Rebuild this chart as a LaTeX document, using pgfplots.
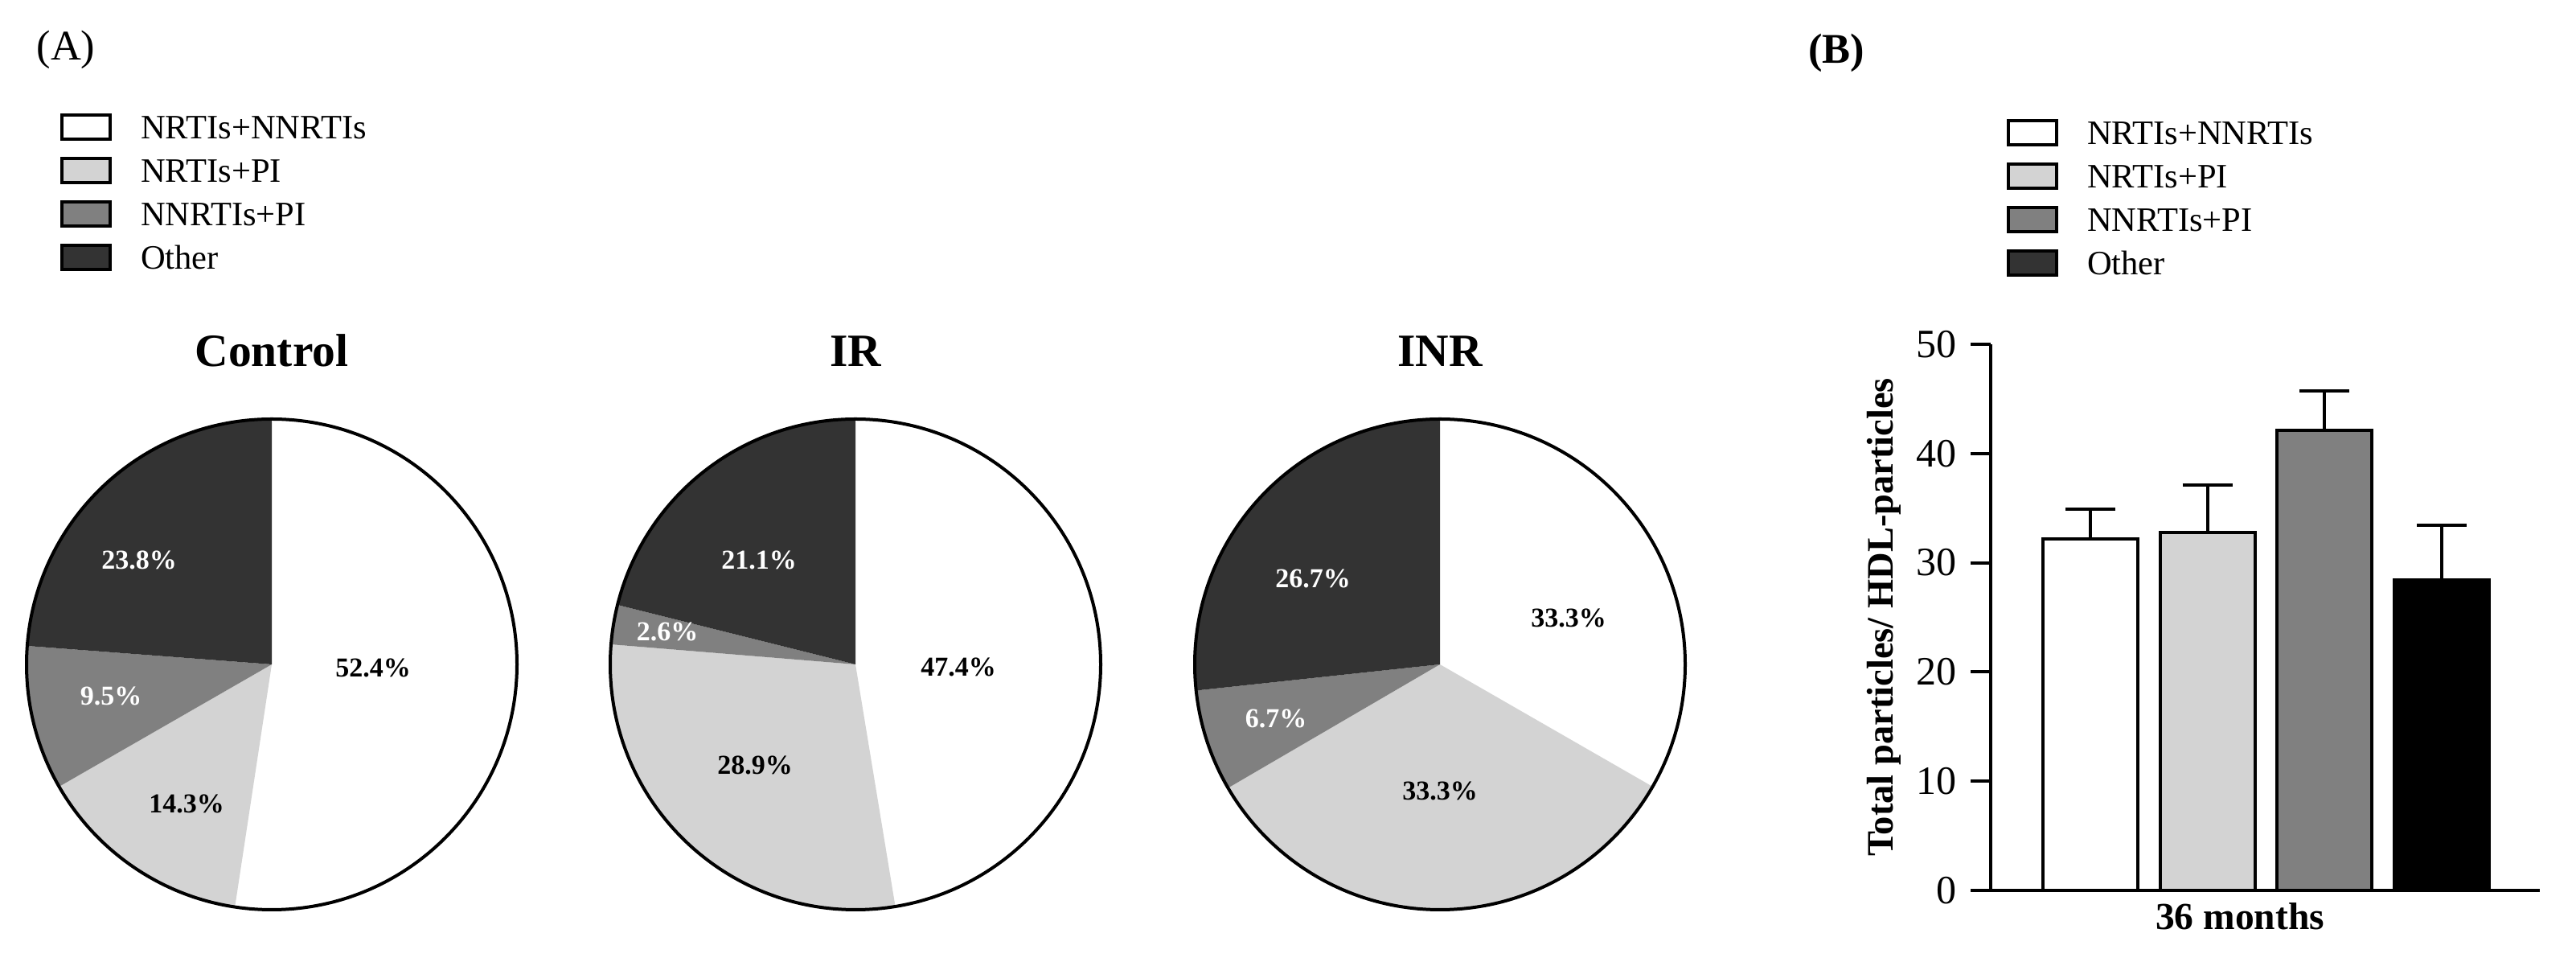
\documentclass[border=0pt]{standalone}
\usepackage{fontspec}
\setmainfont{Liberation Serif}
\usepackage{pgfplots}
\pgfplotsset{compat=1.18}

\definecolor{cW}{RGB}{255,255,255}
\definecolor{cL}{RGB}{211,211,211}
\definecolor{cM}{RGB}{128,128,128}
\definecolor{cD}{RGB}{51,51,51}

% pie: centre x, centre y (canvas px), list of percent/colour, clockwise from 12 o'clock
\newcommand{\pie}[3]{%
  \gdef\cum{0}%
  \foreach \v/\c in {#3} {%
    \pgfmathsetmacro\sa{90-3.6*\cum}%
    \pgfmathsetmacro\ea{90-3.6*(\cum+\v)}%
    \fill[\c] (axis cs:#1,#2) -- ++(\sa:61pt) arc[start angle=\sa, end angle=\ea, radius=61pt] -- cycle;%
    \pgfmathsetmacro\nc{\cum+\v}\xdef\cum{\nc}%
  }%
  \draw[line width=0.8pt] (axis cs:#1,#2) circle[radius=61pt];%
}

\pgfplotsset{
  keybox/.style={
    legend cell align=left,
    legend image code/.code={\draw[##1,line width=0.8pt] (0pt,-3pt) rectangle (12pt,3pt);},
    legend style={draw=none, fill=none, inner sep=0pt, row sep=4.0pt,
      font=\fontsize{8.5}{10}\selectfont,
      nodes={inner sep=0pt, text height=6pt, text depth=0pt},
      /tikz/every odd column/.append style={column sep=7.2pt}},
  },
}

\begin{document}
\begin{tikzpicture}
\useasboundingbox (0pt,0pt) rectangle (640.8pt,238.2pt);

% (A) pies, in a hidden axis whose units are the pixels of the figure
\begin{axis}[
  at={(0pt,0pt)}, anchor=south west,
  x=0.2pt, y=0.2pt,
  xmin=0, xmax=3204, ymin=0, ymax=1191,
  hide axis, clip=false,
  keybox,
  legend style={at={(axis cs:74,1051)}, anchor=north west},
]
  \addlegendimage{fill=cW, draw=black}\addlegendentry{NRTIs+NNRTIs}
  \addlegendimage{fill=cL, draw=black}\addlegendentry{NRTIs+PI}
  \addlegendimage{fill=cM, draw=black}\addlegendentry{NNRTIs+PI}
  \addlegendimage{fill=cD, draw=black}\addlegendentry{Other}

  \pgfplotsextra{\pie{338}{365}{52.4/cW,14.3/cL,9.5/cM,23.8/cD}}
  \pgfplotsextra{\pie{1064}{365}{47.4/cW,28.9/cL,2.6/cM,21.1/cD}}
  \pgfplotsextra{\pie{1791}{365}{33.3/cW,33.3/cL,6.7/cM,26.7/cD}}

  \node[font=\fontsize{10.5}{12}\selectfont] at (axis cs:82,1129) {(A)};
  \node[font=\bfseries\fontsize{10.5}{12}\selectfont] at (axis cs:2284,1125) {(B)};

  \begin{scope}[every node/.style={anchor=base, font=\bfseries\fontsize{11.5}{13}\selectfont}]
    \node at (axis cs:338,735) {Control};
    \node at (axis cs:1064,735) {IR};
    \node at (axis cs:1791,735) {INR};
  \end{scope}

  \begin{scope}[every node/.style={font=\bfseries\fontsize{6.8}{8}\selectfont}]
    \node[black] at (axis cs:464,361) {52.4\%};
    \node[black] at (axis cs:232,192) {14.3\%};
    \node[white] at (axis cs:138,326) {9.5\%};
    \node[white] at (axis cs:173,495) {23.8\%};
    \node[black] at (axis cs:1192,362) {47.4\%};
    \node[black] at (axis cs:939,240) {28.9\%};
    \node[white] at (axis cs:830,406) {2.6\%};
    \node[white] at (axis cs:944,495) {21.1\%};
    \node[black] at (axis cs:1951,423) {33.3\%};
    \node[black] at (axis cs:1791,208) {33.3\%};
    \node[white] at (axis cs:1587,298) {6.7\%};
    \node[white] at (axis cs:1633,472) {26.7\%};
  \end{scope}
\end{axis}

% (B) bar chart
\begin{axis}[
  at={(495.2pt,16.8pt)}, anchor=south west,
  scale only axis, width=136.6pt, height=135.8pt,
  xmin=0.148, xmax=4.838, ymin=0, ymax=50,
  axis lines*=left,
  axis line style={-, line width=0.8pt},
  xtick=\empty,
  ytick={0,10,20,30,40,50},
  tick align=outside, major tick length=5pt,
  ytick style={line width=0.8pt, black},
  yticklabel style={font=\fontsize{10}{12}\selectfont},
  /pgf/number format/assume math mode=true,
  ylabel={Total particles/ HDL-particles},
  ylabel style={font=\bfseries\fontsize{9.3}{11}\selectfont,
    at={(axis description cs:-0.195,0.5)}, anchor=center},
  xlabel={36 months},
  xlabel style={font=\bfseries\fontsize{9.5}{11}\selectfont,
    at={(axis description cs:0.454,-0.072)}, anchor=base},
  ybar, bar width=23.6pt, bar shift=0pt,
  error bars/y dir=plus, error bars/y explicit,
  error bars/error bar style={line width=0.8pt, black},
  error bars/error mark options={rotate=90, line width=0.8pt, mark size=6.2pt, black},
  keybox,
  legend style={at={(axis description cs:0.0278,1.414)}, anchor=north west},
  clip=false,
]
  \addplot[forget plot, fill=cW, draw=black, line width=0.8pt] coordinates {(1,32.2) +- (0,2.7)};
  \addplot[forget plot, fill=cL, draw=black, line width=0.8pt] coordinates {(2,32.8) +- (0,4.3)};
  \addplot[forget plot, fill=cM, draw=black, line width=0.8pt] coordinates {(3,42.1) +- (0,3.6)};
  \addplot[forget plot, fill=black, draw=black, line width=0.8pt] coordinates {(4,28.4) +- (0,5.0)};

  \addlegendimage{fill=cW, draw=black}\addlegendentry{NRTIs+NNRTIs}
  \addlegendimage{fill=cL, draw=black}\addlegendentry{NRTIs+PI}
  \addlegendimage{fill=cM, draw=black}\addlegendentry{NNRTIs+PI}
  \addlegendimage{fill=cD, draw=black}\addlegendentry{Other}
\end{axis}
\end{tikzpicture}
\end{document}
